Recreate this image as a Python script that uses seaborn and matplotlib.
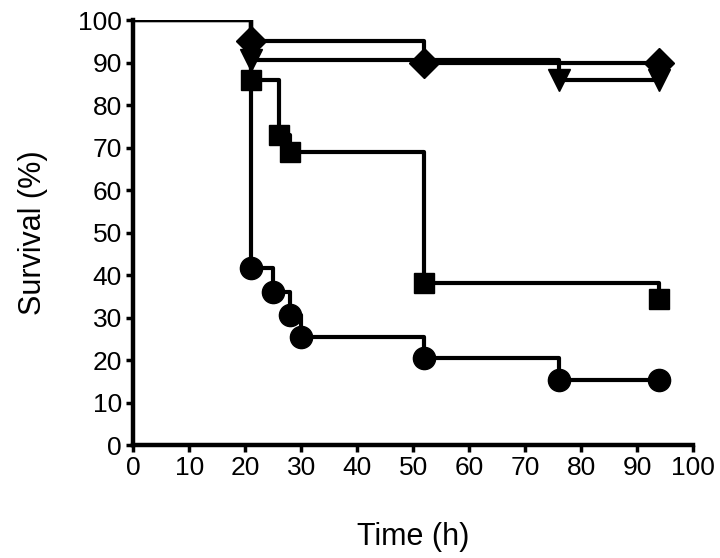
import numpy as np
import pandas as pd
import matplotlib
matplotlib.use("Agg")
import matplotlib.pyplot as plt
import seaborn as sns

# Kaplan-Meier style survival curves
diamond_t = [0, 21, 52, 94]
diamond_s = [100, 95, 90, 90]

triangle_t = [0, 21, 76, 94]
triangle_s = [100, 90.5, 86, 86]

square_t = [0, 21, 26, 28, 52, 94]
square_s = [100, 86, 73, 69, 38.2, 34.4]

circle_t = [0, 21, 25, 28, 30, 52, 76, 94]
circle_s = [100, 41.6, 36.1, 30.6, 25.5, 20.4, 15.3, 15.3]

groups = [
    ("diamond", diamond_t, diamond_s, "D", 15),
    ("triangle", triangle_t, triangle_s, "v", 16),
    ("square", square_t, square_s, "s", 15),
    ("circle", circle_t, circle_s, "o", 16),
]

sns.set_style("ticks", {"text.color": "black", "axes.labelcolor": "black",
                        "xtick.color": "black", "ytick.color": "black",
                        "axes.edgecolor": "black"})
plt.rcParams['font.family'] = ['Liberation Sans', 'DejaVu Sans']

fig = plt.figure(figsize=(7.2, 5.58), dpi=100)
ax = fig.add_axes([0.185, 0.2025, 0.7775, 0.7615])

for name, t, s, mk, ms in groups:
    df = pd.DataFrame({"t": t, "s": s})
    sns.lineplot(data=df, x="t", y="s", ax=ax, color="black", linewidth=3,
                 drawstyle="steps-post", estimator=None, sort=False)
    ax.plot(df["t"][1:], df["s"][1:], linestyle="none", marker=mk,
            markersize=ms, color="black", clip_on=False, zorder=5)

ax.set_xlim(0, 100)
ax.set_ylim(0, 100)
ax.set_xticks(np.arange(0, 101, 10))
ax.set_yticks(np.arange(0, 101, 10))
sns.despine(ax=ax)
for side in ["left", "bottom"]:
    ax.spines[side].set_linewidth(3.2)
ax.tick_params(axis="both", direction="out", length=5, width=2.5,
               labelsize=19, pad=3)
ax.set_xlabel("Time (h)", fontsize=22, labelpad=30)
ax.set_ylabel("Survival (%)", fontsize=22, labelpad=22)

fig.savefig("out.png", dpi=100)
